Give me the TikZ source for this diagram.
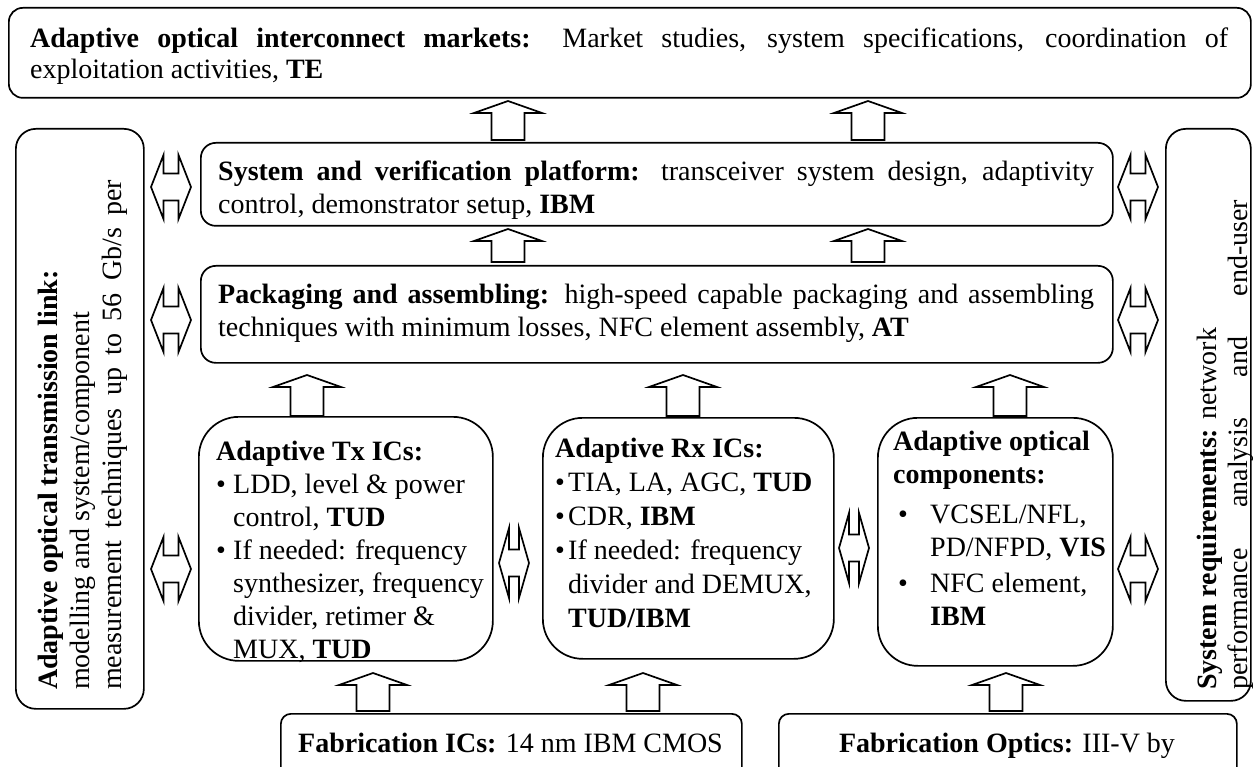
\documentclass[tikz,border=0pt]{standalone}
\usepackage{fontspec}
\setmainfont{Liberation Serif}
\begin{document}
\begin{tikzpicture}[x=1pt,y=-1pt,
  bx/.style={draw, line width=1.7pt, rounded corners=#1, inner sep=0pt, anchor=north west},
  bx/.default=14pt,
  txt/.style={inner sep=0pt, anchor=north west, font=\fontsize{28}{33}\selectfont},
  blk/.style={draw, line width=1.7pt, line join=miter, fill=white},
  pics/uparr/.style={code={\draw[blk] (0,0) -- (34,12) -- (16.5,12) -- (16.5,#1) -- (-16.5,#1) -- (-16.5,12) -- (-34,12) -- cycle;}},
  pics/lrarr/.style={code={\draw[blk] (-7.5,-32) -- (-7.5,-13.5) -- (7.5,-13.5) -- (7.5,-32) -- (20,0) -- (7.5,32) -- (7.5,13.5) -- (-7.5,13.5) -- (-7.5,32) -- (-20,0) -- cycle;}},
  pics/lrthin/.style={code={\draw[blk] (-5,-35) -- (-5,-13.5) -- (5,-13.5) -- (5,-35) -- (15,0) -- (5,35) -- (5,13.5) -- (-5,13.5) -- (-5,35) -- (-15,0) -- cycle;}},
]
\useasboundingbox (0,0) rectangle (1253,767);
\clip (0,0) rectangle (1253,767);

% boxes
\node[bx, minimum width=1242pt, minimum height=90pt] (top) at (8,7) {};
\node[bx=15pt, minimum width=912pt, minimum height=83pt] (sys) at (200,142) {};
\node[bx=15pt, minimum width=912pt, minimum height=97pt] (pack) at (200,265) {};
\node[bx=40pt, minimum width=294pt, minimum height=244pt] (tx) at (198,416) {};
\node[bx=40pt, minimum width=291pt, minimum height=241pt] (rx) at (542,417) {};
\node[bx=40pt, minimum width=235pt, minimum height=248pt] (opt) at (877,417) {};
\node[bx=20pt, minimum width=128pt, minimum height=580pt] (left) at (15,128) {};
\node[bx=20pt, minimum width=85pt, minimum height=572pt] (right) at (1165,128) {};
\node[bx=10pt, minimum width=461pt, minimum height=80pt] (fabic) at (280,713) {};
\node[bx=10pt, minimum width=458pt, minimum height=80pt] (fabop) at (778,713) {};

% texts
\node[txt, text width=1198pt, align=justify, font=\fontsize{28}{31}\selectfont] (toptext) at (30,25.3)
 {\strut\textbf{Adaptive optical interconnect markets:} Market studies, system specifications, coordination of\linebreak exploitation activities, \textbf{TE}};
\node[txt, text width=876pt, align=justify] (systext) at (218,156.9)
 {\strut\textbf{System and verification platform:} transceiver system design, adaptivity\linebreak control, demonstrator setup, \textbf{IBM}};
\node[txt, text width=876pt, align=justify] (packtext) at (218,279.9)
 {\strut\textbf{Packaging and assembling:} high-speed capable packaging and assembling\linebreak techniques with minimum losses, NFC element assembly, \textbf{AT}};
\node[txt, align=left] (txtext) at (216,436.9)
 {\strut\textbf{Adaptive Tx ICs:}\\
  \makebox[17pt][l]{\textbullet}LDD, level \& power\\
  \hspace*{17pt}control, \textbf{TUD}\\
  \makebox[17pt][l]{\textbullet}If needed: frequency\\
  \hspace*{17pt}synthesizer, frequency\\
  \hspace*{17pt}divider, retimer \&\\
  \hspace*{17pt}MUX, \textbf{TUD}};
\node[txt, align=left, font=\fontsize{28}{34}\selectfont] (rxtext) at (555,433.2)
 {\strut\textbf{Adaptive Rx ICs:}\\
  \makebox[13pt][l]{\textbullet}TIA, LA, AGC, \textbf{TUD}\\
  \makebox[13pt][l]{\textbullet}CDR, \textbf{IBM}\\
  \makebox[13pt][l]{\textbullet}If needed: frequency\\
  \hspace*{13pt}divider and DEMUX,\\
  \hspace*{13pt}\textbf{TUD/IBM}};
\node[txt, align=left] (opttext) at (893,426.9)
 {\strut\textbf{Adaptive optical}\\
  \textbf{components:}\\[7pt]
  \hspace*{5pt}\makebox[32pt][l]{\textbullet}VCSEL/NFL,\\
  \hspace*{37pt}PD/NFPD, \textbf{VIS}\\[3pt]
  \hspace*{5pt}\makebox[32pt][l]{\textbullet}NFC element,\\
  \hspace*{37pt}\textbf{IBM}};
\node[txt, rotate=90, align=left, font=\fontsize{28}{32}\selectfont] (lefttext) at (35,690)
 {\strut\textbf{Adaptive optical transmission link:}\\
  modelling and system/component\\
  \makebox[510pt][s]{measurement techniques up to 56 Gb/s per}};
\node[txt, rotate=90, align=left, font=\fontsize{28}{31}\selectfont] (righttext) at (1195,690)
 {\strut\textbf{System requirements:} network\\
  \makebox[490pt][s]{performance analysis and end-user}};
\node[inner sep=0pt, anchor=base, font=\fontsize{28}{33}\selectfont] (fabictext) at (510.5,752)
 {\textbf{Fabrication ICs:} 14 nm IBM CMOS};
\node[inner sep=0pt, anchor=base, font=\fontsize{28}{33}\selectfont] (faboptext) at (1007,752)
 {\textbf{Fabrication Optics:} III-V by};

% up arrows
\pic at (508,101) {uparr=39};
\pic at (868,101) {uparr=39};
\pic at (508,229) {uparr=33};
\pic at (868,229) {uparr=33};
\pic at (307,375) {uparr=41};
\pic at (683,375) {uparr=41};
\pic at (1010,375) {uparr=41};
\pic at (373,673) {uparr=38};
\pic at (643,673) {uparr=38};
\pic at (1006,673) {uparr=38};

% double arrows
\pic at (171,187) {lrarr};
\pic at (171,320) {lrarr};
\pic at (171,569) {lrarr};
\pic at (1138,187) {lrarr};
\pic at (1138,320) {lrarr};
\pic at (1138,569) {lrarr};
\pic at (514,563) {lrthin};
\pic at (854,548) {lrthin};
\end{tikzpicture}
\end{document}
